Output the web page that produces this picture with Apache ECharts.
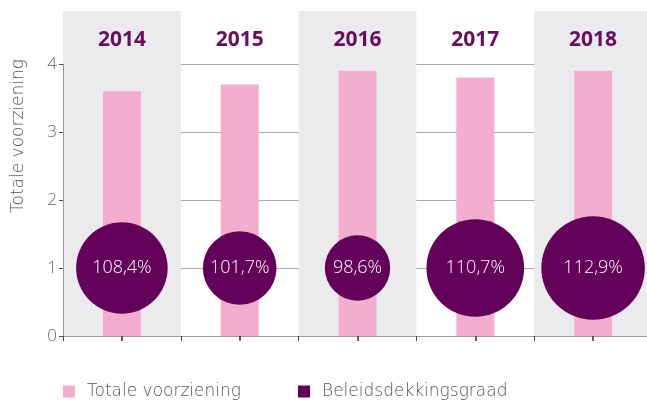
<!DOCTYPE html>
<html>
<head>
<meta charset="utf-8">
<script src="https://cdn.jsdelivr.net/npm/echarts@6/dist/echarts.min.js"></script>
<style>
  html, body { margin: 0; padding: 0; background: #fff; }
  #chart { width: 647px; height: 402px; }
</style>
</head>
<body>
<div id="chart"></div>
<script>
const years = ['2014', '2015', '2016', '2017', '2018'];
const totaleVoorziening = [3.6, 3.7, 3.9, 3.8, 3.9];
const dekkingsgraad = [108.4, 101.7, 98.6, 110.7, 112.9];
const yTicks = [0, 1, 2, 3, 4];

const fontFamily = '"Open Sans", Roboto, sans-serif';
const lightFont = '"DejaVu Sans", sans-serif';
const pink = '#f3aecf';
const purple = '#62005a';

// bubble diameter grows with the funding ratio
const bubbleSize = v => 2.67 * v - 197.9;

const chart = echarts.init(document.getElementById('chart'));
chart.setOption({
  animation: false,
  textStyle: { fontFamily },
  grid: [
    { left: 63, width: 589, top: 11, bottom: 66, outerBoundsMode: 'none' },
    { left: 63, width: 589, top: 64, bottom: 66, outerBoundsMode: 'none' },
  ],
  legend: {
    left: 58,
    top: 378,
    itemWidth: 12,
    itemHeight: 12,
    itemGap: 57,
    icon: 'rect',
    textStyle: { fontSize: 17, color: '#555', fontFamily: lightFont, fontWeight: 200, padding: [0, 0, 0, 7] },
    data: ['Totale voorziening', 'Beleidsdekkingsgraad'],
  },
  xAxis: [
    {
      gridIndex: 0,
      type: 'category',
      position: 'top',
      data: years,
      axisLine: { show: false },
      axisTick: { show: false },
      axisLabel: {
        inside: true,
        margin: 29,
        verticalAlign: 'middle',
        fontSize: 21,
        fontWeight: 'bold',
        color: '#6a0d60',
      },
      splitArea: {
        show: true,
        areaStyle: { color: ['#ebebed', 'rgba(255,255,255,0)'] },
      },
    },
    {
      gridIndex: 1,
      type: 'category',
      position: 'bottom',
      data: years,
      axisLine: { lineStyle: { color: '#999', width: 1 } },
      axisTick: { show: true, length: 5, lineStyle: { color: '#444' } },
      axisLabel: { show: false },
    },
    {
      gridIndex: 1,
      type: 'category',
      position: 'bottom',
      offset: 0,
      data: years,
      axisLine: { show: false },
      axisTick: { show: true, alignWithLabel: true, length: 5, lineStyle: { color: '#333', width: 1.5 } },
      axisLabel: { show: false },
    },
  ],
  yAxis: [
    { gridIndex: 0, type: 'value', show: false, min: 0, max: 1 },
    {
      gridIndex: 1,
      type: 'value',
      min: yTicks[0],
      max: yTicks[yTicks.length - 1],
      interval: 1,
      name: 'Totale voorziening',
      nameLocation: 'middle',
      nameGap: 36,
      nameTextStyle: { fontSize: 17, color: '#555', fontFamily: lightFont, fontWeight: 200, padding: [0, 0, 0, 128] },
      axisLine: { show: true, lineStyle: { color: '#999' } },
      axisTick: { show: true, length: 4, lineStyle: { color: '#555' } },
      axisLabel: { fontSize: 17, color: '#666', margin: 6, fontWeight: 300 },
      splitLine: { lineStyle: { color: '#aaa', width: 1 } },
    },
  ],
  series: [
    {
      name: 'Totale voorziening',
      type: 'bar',
      xAxisIndex: 1,
      yAxisIndex: 1,
      barWidth: 38,
      itemStyle: { color: pink },
      data: totaleVoorziening,
      z: 2,
    },
    {
      name: 'Beleidsdekkingsgraad',
      type: 'scatter',
      xAxisIndex: 2,
      yAxisIndex: 1,
      itemStyle: { color: purple, opacity: 1 },
      data: dekkingsgraad.map((v, i) => [years[i], 1, v]),
      symbolSize: d => bubbleSize(d[2]),
      label: {
        show: true,
        position: 'inside',
        color: '#fff',
        fontSize: 18,
        fontWeight: 300,
        formatter: p => p.value[2].toFixed(1).replace('.', ',') + '%',
      },
      z: 3,
    },
  ],
});
</script>
</body>
</html>
